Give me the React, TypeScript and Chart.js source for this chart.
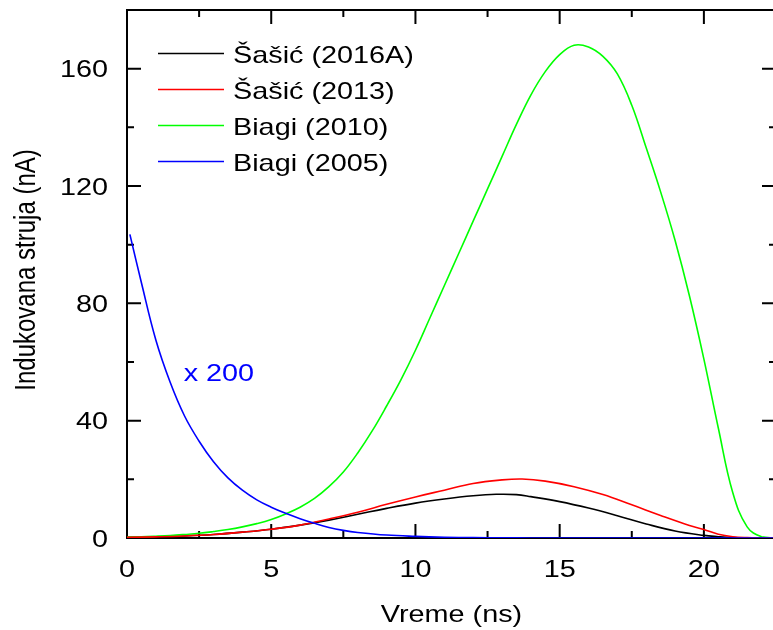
import React, { useEffect, useRef } from "react";
import { Chart, registerables } from "chart.js";

Chart.register(...registerables);

// ---- data ----
const seriesNames = ["Šašić (2016A)", "Šašić (2013)", "Biagi (2010)", "Biagi (2005)"];
const seriesColors = ["#000000", "#ff0000", "#00ff00", "#0000ff"];

const tBlack = [0, 1, 2, 3, 4, 5, 6, 7, 8, 9, 10, 11, 12, 12.8, 13.5, 14, 15, 16, 17, 18, 19, 20, 20.5, 21, 21.5, 22, 22.5];
const vBlack = [0.2, 0.4, 0.7, 1.2, 2.0, 3.0, 4.4, 6.1, 8.1, 10.1, 11.9, 13.3, 14.4, 14.9, 14.8, 14.1, 12.4, 10.2, 7.6, 4.8, 2.4, 0.9, 0.45, 0.12, 0.02, 0, 0];

const tRed = [0, 1, 2, 3, 4, 5, 6, 7, 8, 9, 10, 11, 12, 13, 13.7, 14.5, 15.5, 16.5, 17.5, 18.5, 19.5, 20, 20.5, 21, 21.5, 22, 22.5];
const vRed = [0.2, 0.4, 0.7, 1.2, 2.0, 3.0, 4.4, 6.5, 8.8, 11.5, 14.0, 16.3, 18.6, 19.8, 20.1, 19.4, 17.5, 14.8, 11.3, 7.7, 4.3, 2.9, 1.3, 0.45, 0.12, 0.02, 0];

const tGreen = [0, 0.5, 1, 1.5, 2, 2.5, 3, 3.5, 4, 4.5, 5, 5.5, 6, 6.5, 7, 7.5, 8, 8.5, 9, 9.5, 10, 10.5, 11, 11.5, 12, 12.5, 13, 13.5, 14, 14.5, 15, 15.5, 16, 16.5, 17, 17.5, 18, 18.5, 19, 19.5, 20, 20.5, 21, 21.5, 22, 22.5];
const vGreen = [0.3, 0.4, 0.6, 0.85, 1.2, 1.6, 2.2, 2.9, 3.8, 4.9, 6.3, 8.2, 10.5, 13.5, 17.5, 22.5, 29, 36.5, 45, 54, 64, 75, 86, 97, 108, 119, 130, 141, 151, 159, 164.8, 168.0, 167.4, 164.2, 158.2, 147.5, 133, 118, 101.5, 82.5, 61, 37.5, 15.5, 3.8, 0.4, 0];

const tBlue = [0.1, 0.5, 1, 1.5, 2, 2.5, 3, 3.5, 4, 4.5, 5, 5.5, 6, 6.5, 7, 7.5, 8, 9, 10, 11, 12, 13, 14, 15, 22.5];
const vBlue = [103.5, 87, 67.5, 53, 41.5, 33, 26, 20.5, 16.3, 13, 10.5, 8.4, 6.6, 5.0, 3.6, 2.6, 1.9, 1.0, 0.55, 0.27, 0.13, 0.06, 0.02, 0, 0];

const xMajorTicks = [0, 5, 10, 15, 20];
const xMinorTicks = [2.5, 7.5, 12.5, 17.5];
const yMajorTicks = [0, 40, 80, 120, 160];
const yMinorTicks = [20, 60, 100, 140];

const xTitle = "Vreme (ns)";
const yTitle = "Indukovana struja (nA)";
const annotation = "x 200";

const FONT = '24px "Liberation Sans", Arial, sans-serif';
const STRETCH = 1.2;

function pts(t: number[], v: number[]) {
  return t.map((x, i) => ({ x, y: v[i] }));
}

function drawText(ctx: CanvasRenderingContext2D, text: string, x: number, y: number, align: CanvasTextAlign, color = "#000") {
  ctx.save();
  ctx.translate(x, y);
  ctx.scale(STRETCH, 1);
  ctx.font = FONT;
  ctx.fillStyle = color;
  ctx.textAlign = align;
  ctx.textBaseline = "alphabetic";
  ctx.fillText(text, 0, 0);
  ctx.restore();
}

const framePlugin = {
  id: "frame",
  beforeDatasetsDraw(chart: any) {
    const ctx: CanvasRenderingContext2D = chart.ctx;
    const { left, right, top, bottom } = chart.chartArea;
    const xs = chart.scales.x;
    const ys = chart.scales.y;
    ctx.save();
    ctx.strokeStyle = "#000";
    ctx.lineWidth = 2;
    ctx.beginPath();
    ctx.moveTo(left, top);
    ctx.lineTo(right, top);
    ctx.lineTo(right, bottom);
    ctx.lineTo(left, bottom);
    ctx.closePath();
    ctx.stroke();
    const MAJ = 14;
    const MIN = 7;
    const tickX = (v: number, len: number) => {
      const px = xs.getPixelForValue(v);
      ctx.moveTo(px, bottom);
      ctx.lineTo(px, bottom - len);
      ctx.moveTo(px, top);
      ctx.lineTo(px, top + len);
    };
    const tickY = (v: number, len: number) => {
      const py = ys.getPixelForValue(v);
      ctx.moveTo(left, py);
      ctx.lineTo(left + len, py);
      ctx.moveTo(right, py);
      ctx.lineTo(right - len, py);
    };
    ctx.beginPath();
    xMajorTicks.forEach((v) => tickX(v, MAJ));
    xMinorTicks.forEach((v) => tickX(v, MIN));
    yMajorTicks.forEach((v) => tickY(v, MAJ));
    yMinorTicks.forEach((v) => tickY(v, MIN));
    ctx.stroke();
    ctx.restore();
  },
  afterDraw(chart: any) {
    const ctx: CanvasRenderingContext2D = chart.ctx;
    const { left, right, top, bottom } = chart.chartArea;
    const xs = chart.scales.x;
    const ys = chart.scales.y;
    // tick labels
    xMajorTicks.forEach((v) => drawText(ctx, String(v), xs.getPixelForValue(v), bottom + 39, "center"));
    yMajorTicks.forEach((v) => drawText(ctx, String(v), left - 19, ys.getPixelForValue(v) + 8.6, "right"));
    // axis titles
    drawText(ctx, xTitle, (left + right) / 2, bottom + 84, "center");
    ctx.save();
    ctx.translate(35, (top + bottom) / 2 - 4);
    ctx.rotate(-Math.PI / 2);
    ctx.scale(1, STRETCH);
    ctx.font = FONT;
    ctx.fillStyle = "#000";
    ctx.textAlign = "center";
    ctx.textBaseline = "alphabetic";
    ctx.fillText(yTitle, 0, 0);
    ctx.restore();
    // legend
    seriesNames.forEach((name, i) => {
      const ly = top + 43.5 + i * 36;
      ctx.save();
      ctx.strokeStyle = seriesColors[i];
      ctx.lineWidth = 1.6;
      ctx.beginPath();
      ctx.moveTo(left + 31, ly);
      ctx.lineTo(left + 97, ly);
      ctx.stroke();
      ctx.restore();
      drawText(ctx, name, left + 106, ly + 9, "left");
    });
    // annotation
    drawText(ctx, annotation, xs.getPixelForValue(2) - 1, ys.getPixelForValue(53.5), "left", "#0000ff");
  },
};

export default function App() {
  const ref = useRef<HTMLCanvasElement | null>(null);
  useEffect(() => {
    if (!ref.current) return;
    const mk = (i: number, t: number[], v: number[]) => ({
      label: seriesNames[i],
      data: pts(t, v),
      borderColor: seriesColors[i],
      backgroundColor: seriesColors[i],
      borderWidth: 1.6,
      pointRadius: 0,
      tension: 0.4,
      fill: false,
    });
    const chart = new Chart(ref.current, {
      type: "line",
      data: {
        // order chosen so blue is drawn on top, then red, green, black
        datasets: [mk(3, tBlue, vBlue), mk(1, tRed, vRed), mk(2, tGreen, vGreen), mk(0, tBlack, vBlack)],
      },
      options: {
        animation: false,
        responsive: false,
        events: [],
        layout: { padding: { left: 127, top: 10, right: 1, bottom: 92 } },
        plugins: { legend: { display: false }, tooltip: { enabled: false } },
        scales: {
          x: { type: "linear", min: 0, max: 22.5, display: false },
          y: { type: "linear", min: 0, max: 180, display: false },
        },
      },
      plugins: [framePlugin],
    });
    return () => chart.destroy();
  }, []);
  return (
    <div style={{ position: "fixed", left: 0, top: 0, width: 773, height: 630, overflow: "hidden", background: "#fff" }}>
      <canvas ref={ref} width={777} height={630} style={{ width: 777, height: 630, display: "block" }} />
    </div>
  );
}
